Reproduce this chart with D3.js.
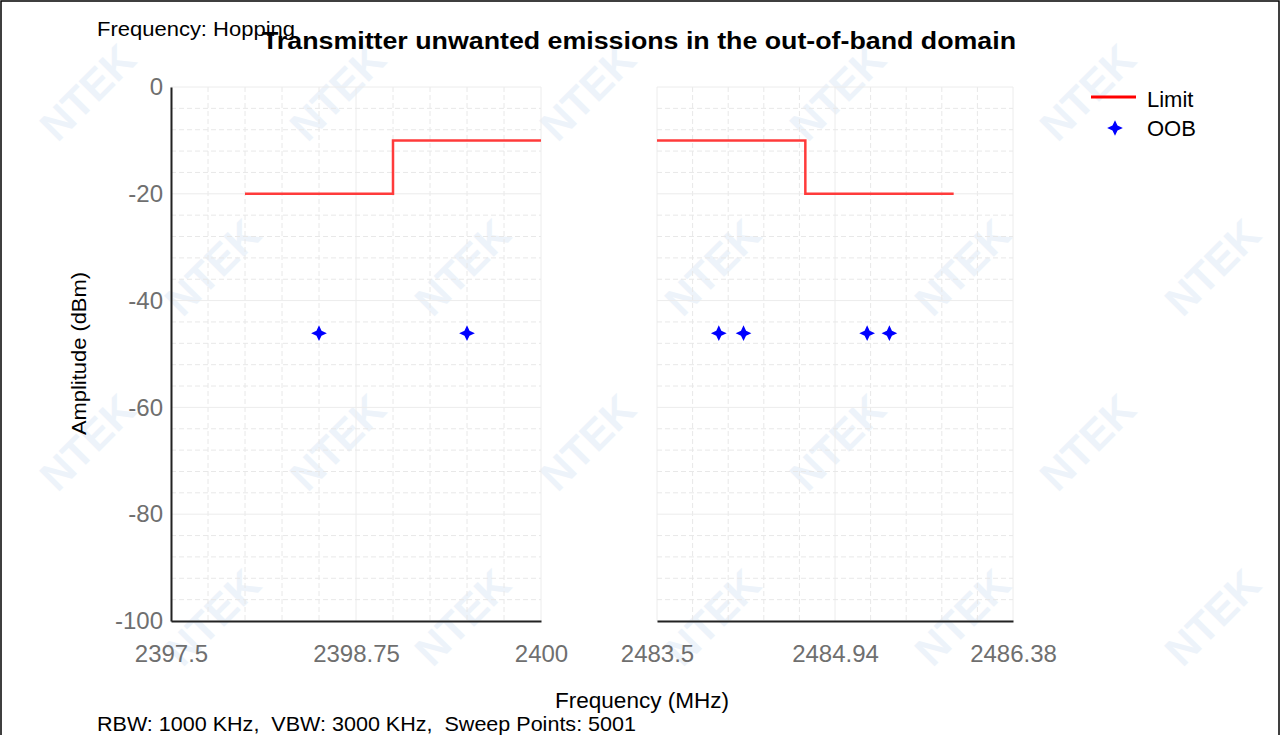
<!DOCTYPE html>
<html><head><meta charset="utf-8">
<script src="https://cdn.jsdelivr.net/npm/d3@7"></script>
<style>html,body{margin:0;padding:0;background:#fff;}svg{display:block;font-family:"Liberation Sans",Arial,sans-serif;}</style>
</head><body>
<svg id="c" width="1282" height="735"></svg>
<script>
// ---- data ----
const yTicks = [0, -20, -40, -60, -80, -100];
const leftTicks = [2397.5, 2398.75, 2400];
const rightTicks = [2483.5, 2484.94, 2486.38];
const leftLimitFreq = [2398.0, 2399.0, 2399.0, 2400.0];
const leftLimitAmp = [-20, -20, -10, -10];
const rightLimitFreq = [2483.5, 2484.7, 2484.7, 2485.9];
const rightLimitAmp = [-10, -10, -20, -20];
const oobFreq = [2398.5, 2399.5, 2484.0, 2484.2, 2485.2, 2485.38];
const oobAmp = [-46.1, -46.1, -46.1, -46.1, -46.1, -46.1];
const seriesNames = ["Limit", "OOB"];

const svg = d3.select("#c");

// watermark (only fully inside the frame)
const wm = svg.append("g");
const wmPos = [];
for (let r = 0; r < 5; r++) {
  for (let c = 0; c < 7; c++) {
    const px = c * 250 + (r % 2 ? 125 : 0) + 90, py = r * 175 + 95;
    if (px > 50 && px < 1235 && py > 40 && py < 700) wmPos.push([px, py]);
  }
}
wm.selectAll("text").data(wmPos).join("text")
  .attr("transform", d => `translate(${d[0]},${d[1]}) rotate(-45)`)
  .attr("text-anchor", "middle").attr("dominant-baseline", "middle")
  .attr("font-size", 42).attr("font-weight", "bold")
  .attr("fill", "#edf3fa").text("NTEK");

// frame
svg.append("rect").attr("x", 1).attr("y", 1).attr("width", 1278).attr("height", 740)
  .attr("fill", "none").attr("stroke", "#000").attr("stroke-width", 1.5);

const y = d3.scaleLinear().domain([-100, 0]).range([621, 87]);
const xL = d3.scaleLinear().domain([2397.5, 2400]).range([171, 541]);
const xR = d3.scaleLinear().domain([2483.5, 2486.38]).range([657, 1013]);

function grid(x, ticks) {
  const g = svg.append("g");
  const [d0, d1] = x.domain();
  const step = (d1 - d0) / 10;
  const xv = d3.range(11).map(i => d0 + i * step);
  const yv = d3.range(26).map(i => -100 + i * 4);
  g.selectAll(".v").data(xv).join("line")
    .attr("x1", d => x(d)).attr("x2", d => x(d)).attr("y1", y(0)).attr("y2", y(-100))
    .attr("stroke", (d, i) => i % 5 === 0 ? "#ececec" : "#e8e8e8")
    .attr("stroke-dasharray", (d, i) => i % 5 === 0 ? null : "5,3");
  g.selectAll(".h").data(yv).join("line")
    .attr("x1", x.range()[0]).attr("x2", x.range()[1]).attr("y1", d => y(d)).attr("y2", d => y(d))
    .attr("stroke", (d) => d % 20 === 0 ? "#ececec" : "#e8e8e8")
    .attr("stroke-dasharray", d => d % 20 === 0 ? null : "5,3");
  // x axis
  const ax = svg.append("g").attr("transform", `translate(0,${y(-100)})`)
    .call(d3.axisBottom(x).tickValues(ticks).tickSize(0).tickFormat(d => String(d)));
  ax.select(".domain").attr("stroke", "#222").attr("stroke-width", 2);
  ax.selectAll("text").attr("font-size", 24).attr("fill", "#6f6f6f").attr("y", 41).attr("dy", 0)
    .attr("font-family", "Liberation Sans, Arial, sans-serif");
}
grid(xL, leftTicks);
grid(xR, rightTicks);

// y axis
const ay = svg.append("g").attr("transform", `translate(171,0)`)
  .call(d3.axisLeft(y).tickValues(yTicks).tickSize(0).tickFormat(d => String(d)));
ay.select(".domain").attr("stroke", "#222").attr("stroke-width", 2);
ay.selectAll("text").attr("font-size", 24).attr("fill", "#6f6f6f").attr("x", -8)
  .attr("font-family", "Liberation Sans, Arial, sans-serif");

// limit lines
const line = (x) => d3.line().x(d => x(d[0])).y(d => y(d[1]));
svg.append("path").datum(leftLimitFreq.map((f, i) => [f, leftLimitAmp[i]]))
  .attr("d", line(xL)).attr("fill", "none").attr("stroke", "#ff3b3b").attr("stroke-width", 2.5);
svg.append("path").datum(rightLimitFreq.map((f, i) => [f, rightLimitAmp[i]]))
  .attr("d", line(xR)).attr("fill", "none").attr("stroke", "#ff3b3b").attr("stroke-width", 2.5);

// star symbol (4-point)
const star4 = {
  draw(ctx, size) {
    const r = Math.sqrt(size) * 0.75, s = r * 0.32;
    ctx.moveTo(0, -r); ctx.lineTo(s, -s); ctx.lineTo(r, 0); ctx.lineTo(s, s);
    ctx.lineTo(0, r); ctx.lineTo(-s, s); ctx.lineTo(-r, 0); ctx.lineTo(-s, -s); ctx.closePath();
  }
};
const sym = d3.symbol().type(star4).size(110);
svg.selectAll(".oob").data(oobFreq.map((f, i) => [f, oobAmp[i]])).join("path")
  .attr("transform", d => `translate(${d[0] < 2450 ? xL(d[0]) : xR(d[0])},${y(d[1])})`)
  .attr("d", sym).attr("fill", "#0000ff");

// titles
svg.append("text").attr("x", 97).attr("y", 36).attr("font-size", 21).attr("fill", "#000")
  .attr("textLength", 198).attr("lengthAdjust", "spacingAndGlyphs")
  .text("Frequency: Hopping");
svg.append("text").attr("x", 262).attr("y", 49)
  .attr("font-size", 23).attr("font-weight", "bold").attr("fill", "#000")
  .attr("textLength", 754).attr("lengthAdjust", "spacingAndGlyphs")
  .text("Transmitter unwanted emissions in the out-of-band domain");
svg.append("text").attr("x", 555).attr("y", 708)
  .attr("font-size", 22).attr("fill", "#000")
  .attr("textLength", 174).attr("lengthAdjust", "spacingAndGlyphs").text("Frequency (MHz)");
svg.append("text").attr("transform", "translate(86,435) rotate(-90)")
  .attr("font-size", 21).attr("fill", "#000")
  .attr("textLength", 163).attr("lengthAdjust", "spacingAndGlyphs").text("Amplitude (dBm)");
svg.append("text").attr("x", 97).attr("y", 731).attr("font-size", 21).attr("fill", "#000")
  .attr("textLength", 539).attr("lengthAdjust", "spacingAndGlyphs")
  .attr("xml:space", "preserve").text("RBW: 1000 KHz,  VBW: 3000 KHz,  Sweep Points: 5001");

// legend
const lg = svg.append("g");
lg.append("line").attr("x1", 1091).attr("x2", 1136).attr("y1", 97).attr("y2", 97)
  .attr("stroke", "#ff0000").attr("stroke-width", 3);
lg.append("path").attr("transform", "translate(1115,128)").attr("d", sym).attr("fill", "#0000ff");
lg.selectAll("text").data(seriesNames).join("text")
  .attr("x", 1147).attr("y", (d, i) => 107 + i * 29).attr("font-size", 22).attr("fill", "#000").text(d => d);
</script>
</body></html>
